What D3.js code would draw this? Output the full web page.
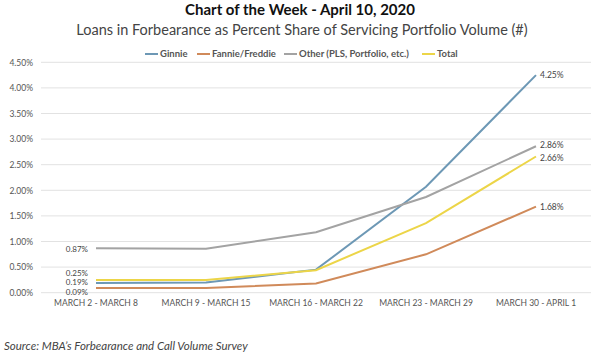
<!DOCTYPE html>
<html><head><meta charset="utf-8">
<script src="https://cdn.jsdelivr.net/npm/d3@7"></script>
<style>body{margin:0;background:#fff}svg{display:block;font-family:Lato,"Open Sans",sans-serif}</style>
</head><body><svg id="c" width="600" height="355"></svg>
<script>
const categories = ["MARCH 2 - MARCH 8","MARCH 9 - MARCH 15","MARCH 16 - MARCH 22","MARCH 23 - MARCH 29","MARCH 30 - APRIL 1"];
const ginnie = [0.19, 0.20, 0.45, 2.07, 4.25];
const fannieFreddie = [0.09, 0.09, 0.18, 0.75, 1.68];
const other = [0.87, 0.86, 1.18, 1.87, 2.86];
const total = [0.25, 0.25, 0.44, 1.36, 2.66];
const seriesNames = ["Ginnie","Fannie/Freddie","Other (PLS, Portfolio, etc.)","Total"];
const yTicks = [0,0.5,1,1.5,2,2.5,3,3.5,4,4.5];
const title = "Chart of the Week - April 10, 2020";
const subtitle = "Loans in Forbearance as Percent Share of Servicing Portfolio Volume (#)";
const source = "Source: MBA\u2019s Forbearance and Call Volume Survey";

const colors = ["#6d98b5","#d08a5a","#a3a3a3","#ecd548"];
const series = [ginnie, fannieFreddie, other, total];

const svg = d3.select("#c");
const x = d3.scaleBand().domain(categories).range([41,591]);
const y = d3.scaleLinear().domain([0,4.5]).range([292.7,62.3]);
const xc = d => x(d) + x.bandwidth()/2;

svg.append("text").attr("x",300).attr("y",15).attr("text-anchor","middle")
  .attr("font-size",15).attr("font-weight","bold").attr("fill","#111").text(title);
svg.append("text").attr("x",302).attr("y",35).attr("text-anchor","middle")
  .attr("font-size",14.5).attr("fill","#444").text(subtitle);

// grid
svg.append("g").selectAll("line").data(yTicks).join("line")
  .attr("x1",41).attr("x2",591).attr("y1",d=>y(d)).attr("y2",d=>y(d))
  .attr("stroke","#e2e2e2").attr("stroke-width",1);

const yAxis = svg.append("g").attr("transform","translate(36,0)")
  .call(d3.axisLeft(y).tickValues(yTicks).tickFormat(d=>d.toFixed(2)+"%").tickSize(0));
yAxis.select(".domain").remove();
yAxis.selectAll("text").attr("font-size",8.5).attr("fill","#555").attr("font-family","Lato,sans-serif");

const xAxis = svg.append("g").attr("transform","translate(0,297)")
  .call(d3.axisBottom(x).tickSize(0));
xAxis.select(".domain").remove();
xAxis.selectAll("text").attr("font-size",8.5).attr("fill","#555").attr("font-family","Lato,sans-serif");

const line = d3.line().x((d,i)=>xc(categories[i])).y(d=>y(d));
svg.append("g").selectAll("path").data(series).join("path")
  .attr("d",line).attr("fill","none").attr("stroke",(d,i)=>colors[i]).attr("stroke-width",2);

// data labels
const fmt = v => v.toFixed(2)+"%";
const leftOff = [-0.5, 4.4, 1, -7.4];
svg.append("g").selectAll("text").data(series).join("text")
  .attr("x",xc(categories[0])-8).attr("text-anchor","end")
  .attr("y",(d,i)=>y(d[0])+leftOff[i]+3)
  .attr("font-size",8).attr("fill","#444").text(d=>fmt(d[0]));
const rightOff = [0, 0, -1, 1];
svg.append("g").selectAll("text").data(series).join("text")
  .attr("x",xc(categories[4])+4)
  .attr("y",(d,i)=>y(d[4])+rightOff[i]+3)
  .attr("font-size",8.5).attr("fill","#444").text(d=>fmt(d[4]));

// legend
const legend = svg.append("g").attr("transform","translate(0,54)");
const lx = [145,197,284,422];
seriesNames.forEach((n,i)=>{
  legend.append("line").attr("x1",lx[i]).attr("x2",lx[i]+13).attr("y1",0).attr("y2",0)
    .attr("stroke",colors[i]).attr("stroke-width",2);
  legend.append("text").attr("x",lx[i]+15).attr("y",3.3).attr("font-size",9.5)
    .attr("font-weight","bold").attr("fill","#555").text(n);
});

svg.append("text").attr("x",4).attr("y",350).attr("font-size",11.5).attr("font-style","italic")
  .attr("fill","#444").text(source);
</script></body></html>
